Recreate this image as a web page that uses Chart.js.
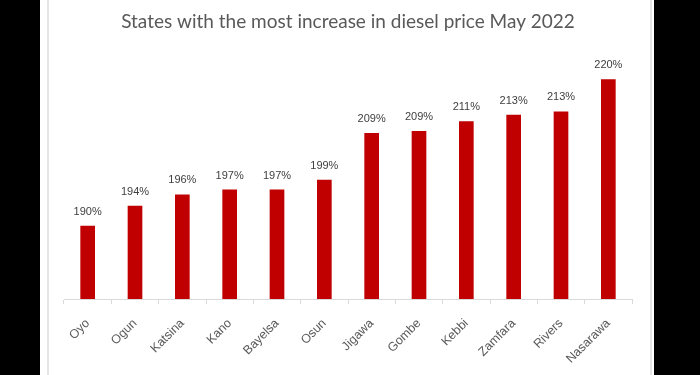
<!DOCTYPE html>
<html>
<head>
<meta charset="utf-8">
<script src="https://cdn.jsdelivr.net/npm/chart.js@4/dist/chart.umd.min.js"></script>
<style>
  html, body { margin: 0; padding: 0; background: #000; width: 700px; height: 375px; overflow: hidden; }
  #panel { position: absolute; left: 40px; top: 0; width: 614px; height: 375px; background: #fff; }
  #frame { position: absolute; left: 47px; top: 0; width: 601px; height: 375px; border-left: 2px solid #e6e6e6; border-right: 2px solid #e6e6e6; }
  #wrap { position: absolute; left: 0; top: 0; width: 700px; height: 375px; }
</style>
</head>
<body>
<div id="panel"></div>
<div id="frame"></div>
<div id="wrap"><canvas id="c" width="700" height="375"></canvas></div>
<script>
const titleText = "States with the most increase in diesel price May 2022";
const states = ["Oyo", "Ogun", "Katsina", "Kano", "Bayelsa", "Osun", "Jigawa", "Gombe", "Kebbi", "Zamfara", "Rivers", "Nasarawa"];
const increasePct = [190, 194.1, 196.4, 197.4, 197.4, 199.4, 209.0, 209.4, 211.4, 212.7, 213.4, 220];
const yMin = 175;
const yMax = 225;

const valueLabels = {
  id: 'valueLabels',
  afterDatasetsDraw(chart) {
    const ctx = chart.ctx;
    const meta = chart.getDatasetMeta(0);
    ctx.save();
    ctx.font = '11px "Liberation Sans", Arial, sans-serif';
    ctx.fillStyle = '#404040';
    ctx.textAlign = 'center';
    ctx.textBaseline = 'alphabetic';
    meta.data.forEach((bar, i) => {
      ctx.fillText(Math.round(increasePct[i]) + '%', bar.x, bar.y - 11);
    });
    ctx.restore();
  }
};

new Chart(document.getElementById('c'), {
  type: 'bar',
  data: {
    labels: states,
    datasets: [{
      data: increasePct,
      backgroundColor: '#C00000',
      borderWidth: 0,
      barPercentage: 0.31,
      categoryPercentage: 1.0
    }]
  },
  options: {
    responsive: false,
    animation: false,
    layout: { padding: { left: 64, right: 68, top: 0, bottom: 0 } },
    plugins: {
      legend: { display: false },
      tooltip: { enabled: false },
      title: {
        display: true,
        text: titleText,
        color: '#595959',
        font: { family: 'Lato, "Open Sans", sans-serif', size: 19, weight: 'normal' },
        padding: { top: 10, bottom: 22 }
      }
    },
    scales: {
      y: { display: false, min: yMin, max: yMax },
      x: {
        afterFit(s) { s.height = 76; },
        border: { display: true, color: '#d9d9d9', width: 1 },
        grid: { display: true, drawOnChartArea: false, drawTicks: true, tickLength: 5, color: '#d9d9d9', offset: true },
        ticks: {
          minRotation: 45, maxRotation: 45, autoSkip: false,
          color: '#595959',
          padding: 12,
          font: { family: '"Liberation Sans", Arial, sans-serif', size: 12.5 }
        }
      }
    }
  },
  plugins: [valueLabels]
});
</script>
</body>
</html>
